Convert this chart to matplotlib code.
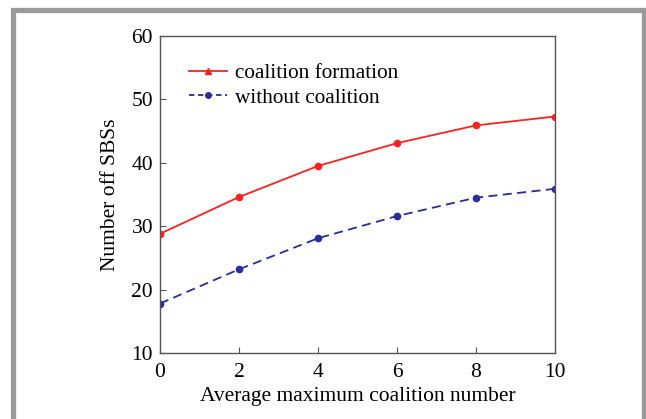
import matplotlib
matplotlib.use("Agg")
import matplotlib.pyplot as plt
from matplotlib.lines import Line2D
from matplotlib.patches import Rectangle

plt.rcParams['font.family'] = ['Liberation Serif', 'DejaVu Serif']

# --- data ---
coalition_num = [0, 2, 4, 6, 8, 10]
with_coalition = [28.8, 34.6, 39.5, 43.1, 45.9, 47.3]
without_coalition = [17.8, 23.2, 28.1, 31.6, 34.5, 35.9]

RED = '#ff2020'
BLUE = '#2b2b9a'

fig = plt.figure(figsize=(6.46, 4.19), dpi=100)
ax = fig.add_axes([160 / 646, 1 - 353 / 419, (555 - 160) / 646, (353 - 36) / 419])

ax.plot(coalition_num, with_coalition, color=RED, lw=1.3, marker='o', ms=4.5)
ax.plot(coalition_num, without_coalition, color=BLUE, lw=1.3, ls=(0, (5, 3)),
        marker='o', ms=4.5)

ax.set_xlim(0, 10)
ax.set_ylim(10, 60)
ax.set_xticks(range(0, 11, 2))
ax.set_yticks(range(10, 61, 10))
ax.tick_params(direction='in', labelsize=15.5, length=4, color='#555555')
ax.tick_params(axis='x', pad=7.5)
ax.tick_params(axis='y', pad=5)
for s in ax.spines.values():
    s.set_color('#555555')
    s.set_linewidth(1.0)

ax.set_xlabel('Average maximum coalition number', fontsize=15.5, labelpad=3)
ax.set_ylabel('Number off SBSs', fontsize=15.5, labelpad=8)

# legend handles (red shows a small triangle in the key)
handles = [
    Line2D([], [], color=RED, lw=1.3, marker='^', ms=4),
    Line2D([], [], color=BLUE, lw=1.3, ls=(0, (3, 2)), marker='o', ms=4),
]
ax.legend(handles, ['coalition formation', 'without coalition'],
          loc='upper left', bbox_to_anchor=(0.053, 0.94), frameon=False,
          fontsize=15.3, handlelength=1.75, handletextpad=0.4, labelspacing=0.2,
          borderaxespad=0)

# grey frame around the picture
fig.patches.append(Rectangle((13.5 / 646, -0.1), (646 - 13.5 - 2) / 646, 1.1 - 10.5 / 419,
                             transform=fig.transFigure, fill=False,
                             edgecolor='#9a9a9a', lw=3.8))

fig.savefig('out.png', dpi=100)
